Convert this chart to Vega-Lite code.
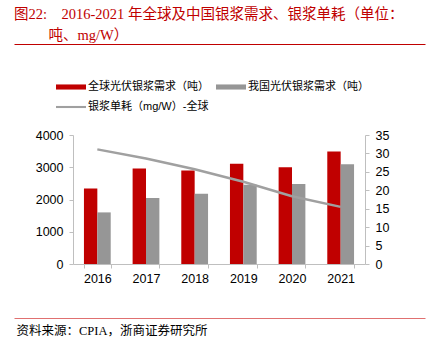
{
  "$schema": "https://vega.github.io/schema/vega-lite/v6.json",
  "width": 292,
  "height": 129,
  "padding": {"left": 14, "top": 6, "right": 2, "bottom": 4},
  "autosize": {"type": "pad"},
  "config": {
    "view": {"stroke": null},
    "font": "Liberation Sans, Noto Sans CJK SC",
    "axis": {"labelFont": "Liberation Sans, Noto Sans CJK SC", "labelColor": "#000000", "labelFontSize": 12.5, "domainColor": "#BFBFBF", "tickColor": "#BFBFBF", "grid": false}
  },
  "title": {
    "text": "图22:\u30002016-2021 年全球及中国银浆需求、银浆单耗（单位：",
    "anchor": "start",
    "frame": "bounds",
    "color": "#C00000",
    "font": "Liberation Serif, Noto Sans CJK SC",
    "fontSize": 14.5,
    "fontWeight": "normal",
    "offset": 5
  },
  "datasets": {
    "bars": [
      {"year": "2016", "series": "全球光伏银浆需求（吨）", "value": 2340},
      {"year": "2016", "series": "我国光伏银浆需求（吨）", "value": 1600},
      {"year": "2017", "series": "全球光伏银浆需求（吨）", "value": 2960},
      {"year": "2017", "series": "我国光伏银浆需求（吨）", "value": 2050},
      {"year": "2018", "series": "全球光伏银浆需求（吨）", "value": 2900},
      {"year": "2018", "series": "我国光伏银浆需求（吨）", "value": 2180},
      {"year": "2019", "series": "全球光伏银浆需求（吨）", "value": 3110},
      {"year": "2019", "series": "我国光伏银浆需求（吨）", "value": 2460},
      {"year": "2020", "series": "全球光伏银浆需求（吨）", "value": 3000},
      {"year": "2020", "series": "我国光伏银浆需求（吨）", "value": 2480},
      {"year": "2021", "series": "全球光伏银浆需求（吨）", "value": 3490},
      {"year": "2021", "series": "我国光伏银浆需求（吨）", "value": 3090}
    ],
    "line": [
      {"year": "2016", "consumption": 31.1},
      {"year": "2017", "consumption": 28.6},
      {"year": "2018", "consumption": 25.7},
      {"year": "2019", "consumption": 22.3},
      {"year": "2020", "consumption": 18.4},
      {"year": "2021", "consumption": 15.5}
    ],
    "frame": [{"v": 0}]
  },
  "layer": [
    {
      "layer": [
        {
          "data": {"name": "bars"},
          "mark": {"type": "bar"},
          "encoding": {
            "x": {"field": "year", "type": "nominal",
              "scale": {"paddingInner": 0.45, "paddingOuter": 0.225},
              "axis": {"title": null, "labelAngle": 0, "ticks": true, "tickBand": "extent", "tickSize": 4, "labelPadding": 4}},
            "xOffset": {"field": "series", "type": "nominal", "sort": ["全球光伏银浆需求（吨）", "我国光伏银浆需求（吨）"]},
            "y": {"field": "value", "type": "quantitative",
              "scale": {"domain": [0, 4000]},
              "axis": {"values": [0, 1000, 2000, 3000, 4000], "format": "d", "tickSize": 4, "labelPadding": 6, "title": null}},
            "color": {"field": "series", "type": "nominal",
              "scale": {"domain": ["全球光伏银浆需求（吨）", "我国光伏银浆需求（吨）", "银浆单耗（mg/W）-全球"], "range": ["#C00000", "#969696", "#A0A0A0"]},
              "legend": {
                "title": null,
                "orient": "none",
                "legendX": -17,
                "legendY": -63,
                "direction": "horizontal",
                "columns": 2,
                "columnPadding": 7,
                "rowPadding": -9,
                "labelFontSize": 11,
                "labelColor": "#000000",
                "labelOffset": 2,
                "symbolType": "M-1,-0.17H1V0.17H-1Z",
                "symbolSize": 900,
                "symbolStrokeWidth": 0,
                "encode": {"symbols": {"update": {"shape": {"signal": "datum.value === '银浆单耗（mg/W）-全球' ? 'M-1,-0.07H1V0.07H-1Z' : 'M-1,-0.17H1V0.17H-1Z'"}}}}
              }}
          }
        },
        {
          "data": {"name": "line"},
          "mark": {"type": "line", "strokeWidth": 2.5},
          "encoding": {
            "x": {"field": "year", "type": "nominal"},
            "y": {"field": "consumption", "type": "quantitative",
              "scale": {"domain": [0, 35]},
              "axis": {"orient": "right", "values": [0, 5, 10, 15, 20, 25, 30, 35], "tickSize": 4, "labelPadding": 6, "title": null}},
            "color": {"datum": "银浆单耗（mg/W）-全球", "type": "nominal"}
          }
        }
      ],
      "resolve": {"scale": {"y": "independent"}}
    },
    {
      "data": {"name": "frame"},
      "mark": {"type": "text", "text": ""},
      "encoding": {
        "x": {"field": "v", "type": "quantitative", "scale": {"domain": [0, 1], "range": [-59, 352]},
          "axis": {"orient": "top", "offset": 91, "domainColor": "#C00000", "domainWidth": 1, "ticks": false, "labels": false,
            "title": "吨、mg/W）",
            "titleX": -25, "titleY": -9, "titleAlign": "left", "titleBaseline": "middle", "titleAngle": 0,
            "titleFont": "Liberation Serif, Noto Sans CJK SC", "titleFontSize": 14.5, "titleFontWeight": "normal", "titleColor": "#C00000"}}
      }
    },
    {
      "data": {"name": "frame"},
      "mark": {"type": "text", "text": ""},
      "encoding": {
        "x": {"field": "v", "type": "quantitative", "scale": {"domain": [0, 1], "range": [-59, 352]},
          "axis": {"orient": "bottom", "offset": 54, "domainColor": "#E07070", "domainWidth": 1, "ticks": false, "labels": false,
            "title": "资料来源：CPIA，浙商证券研究所",
            "titleX": -57, "titleY": 12, "titleAlign": "left", "titleBaseline": "middle", "titleAngle": 0,
            "titleFont": "Liberation Serif, Noto Sans CJK SC", "titleFontSize": 12.5, "titleFontWeight": "normal", "titleColor": "#000000"}}
      }
    }
  ],
  "resolve": {"scale": {"x": "independent"}}
}
